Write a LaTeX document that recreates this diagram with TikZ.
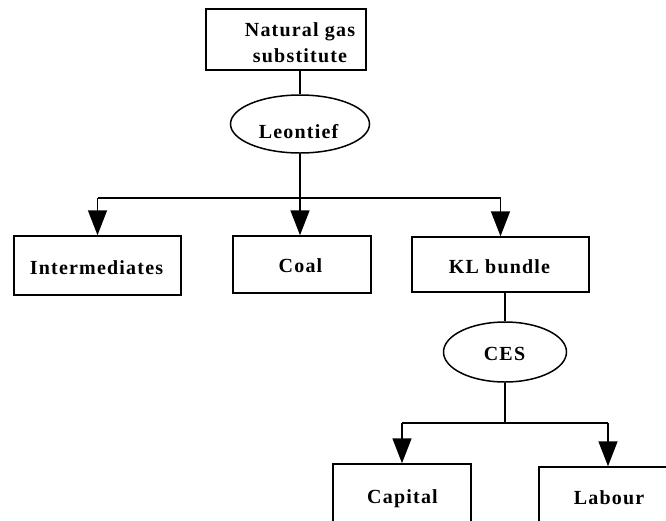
\documentclass[tikz,border=0pt]{standalone}
\usepackage{fontspec}
\newfontfamily\treefont{Liberation Serif}[LetterSpace=6]
\usetikzlibrary{shapes.geometric,arrows.meta}

\tikzset{
  box/.style={draw, rectangle, line width=1.5pt, inner sep=0pt},
  ell/.style={draw, ellipse, line width=1.5pt, inner sep=0pt},
  lbl/.style={anchor=base, inner sep=0pt,
    font=\treefont\bfseries\fontsize{20}{25}\selectfont},
  link/.style={line width=1.5pt},
  arr/.style={link, -{Triangle[length=25pt,width=19pt]}}
}

\begin{document}
\begin{tikzpicture}[x=1pt, y=-1pt]
  \useasboundingbox (0,0) rectangle (666,520);
  \clip (0,0) rectangle (666,520);

  % outlines
  \node[box, minimum width=160pt, minimum height=61pt] (ngs)   at (286,39.5) {};
  \node[ell, minimum width=139pt, minimum height=58pt] (leo)   at (300,124) {};
  \node[box, minimum width=167pt, minimum height=59pt] (inter) at (97.5,265.5) {};
  \node[box, minimum width=138pt, minimum height=57pt] (coal)  at (302,264.5) {};
  \node[box, minimum width=177pt, minimum height=55pt] (kl)    at (500.5,264.5) {};
  \node[ell, minimum width=123pt, minimum height=60pt] (ces)   at (505,352) {};
  \node[box, minimum width=138pt, minimum height=96pt] (cap)   at (402,512) {};
  \node[box, minimum width=138pt, minimum height=96pt] (lab)   at (608,515) {};

  % labels
  \node[lbl] (ngs-a) at (300,36)   {Natural gas};
  \node[lbl] (ngs-b) at (300,62)   {substitute};
  \node[lbl] (leo-t) at (298.5,138) {Leontief};
  \node[lbl] (int-t) at (96.5,274) {Intermediates};
  \node[lbl] (coa-t) at (300.5,272) {Coal};
  \node[lbl] (kl-t)  at (499.5,273) {KL bundle};
  \node[lbl] (ces-t) at (504.5,360) {CES};
  \node[lbl] (cap-t) at (402.5,503) {Capital};
  \node[lbl] (lab-t) at (609,504)  {Labour};

  % junction rails
  \coordinate (j1) at (299,198);
  \coordinate (j2) at (504,423);

  % upper level
  \draw[link] (ngs.south -| leo.north) -- (leo.north);
  \draw[arr]  (leo.south) -- (leo.south |- coal.north);
  \draw[link] (j1 -| inter.north) -- (j1 -| kl.north);
  \draw[arr]  (j1 -| inter.north) -- (inter.north);
  \draw[arr]  (j1 -| kl.north) -- (kl.north);

  % lower level
  \draw[link] (kl.south -| ces.north) -- (ces.north);
  \draw[link] (ces.south) -- (ces.south |- j2);
  \draw[link] (j2 -| cap.north) -- (j2 -| lab.north);
  \draw[arr]  (j2 -| cap.north) -- (cap.north);
  \draw[arr]  (j2 -| lab.north) -- (lab.north);
\end{tikzpicture}
\end{document}
